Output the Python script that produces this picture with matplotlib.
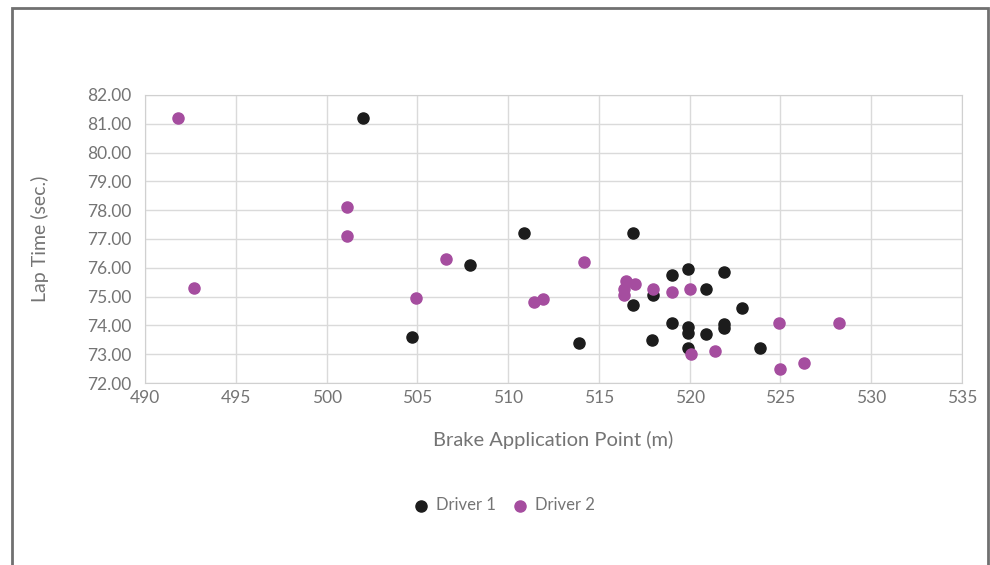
import matplotlib.pyplot as plt
from matplotlib.patches import Rectangle

# brake point (m) / lap time (s)
d1_brake = [502.0, 510.9, 516.9, 507.9, 504.7, 513.9, 516.9, 518.0, 519.0, 519.9,
            520.9, 521.9, 522.9, 519.0, 519.9, 519.9, 520.9, 521.9, 521.9, 517.9,
            519.9, 523.9]
d1_lap = [81.2, 77.2, 77.2, 76.1, 73.6, 73.4, 74.7, 75.05, 75.75, 75.95,
          75.25, 75.85, 74.6, 74.1, 73.95, 73.72, 73.7, 74.05, 73.9, 73.5,
          73.2, 73.2]

d2_brake = [491.8, 492.7, 501.1, 501.1, 506.6, 504.9, 511.4, 511.9, 514.2, 516.5,
            517.0, 516.4, 516.4, 518.0, 519.0, 520.0, 520.05, 521.4, 524.9, 525.0,
            526.3, 528.2]
d2_lap = [81.2, 75.3, 78.1, 77.1, 76.3, 74.95, 74.8, 74.9, 76.2, 75.55,
          75.45, 75.25, 75.05, 75.25, 75.15, 75.25, 73.0, 73.1, 74.1, 72.5,
          72.7, 74.1]

xticks = list(range(490, 536, 5))
yticks = list(range(72, 83))

plt.rcParams['font.family'] = ['Lato', 'DejaVu Sans']
grey = '#747474'

fig = plt.figure(figsize=(9.9, 5.65), dpi=100)
ax = fig.add_axes([0.1465, 0.3221, 0.8252, 0.5098])

ax.scatter(d1_brake, d1_lap, s=64, color='#1c1c1c', label='Driver 1', zorder=3)
ax.scatter(d2_brake, d2_lap, s=64, color='#a54d9f', label='Driver 2', zorder=3)

ax.set_xlim(490, 535)
ax.set_ylim(72, 82)
ax.set_xticks(xticks)
ax.set_yticks(yticks)
ax.set_yticklabels(['%.2f' % v for v in yticks])
ax.tick_params(length=0, labelsize=12.5, colors=grey)
ax.tick_params(axis='y', pad=10)
ax.tick_params(axis='x', pad=5)
ax.grid(color='#dadada', linewidth=1)
ax.set_axisbelow(True)
for s in ax.spines.values():
    s.set_color('#d0d0d0')

ax.set_xlabel('Brake Application Point (m)', fontsize=14.5, color=grey)
ax.set_ylabel('Lap Time (sec.)', fontsize=14, color=grey)
ax.xaxis.set_label_coords(0.5, -0.167)
ax.yaxis.set_label_coords(-0.118, 0.5)

fig.legend(loc='center', bbox_to_anchor=(0.505, 0.106), ncol=2, frameon=False,
           fontsize=12, labelcolor=grey, handletextpad=-0.1, columnspacing=0.45,
           markerscale=1.0)

# outer frame
fig.patches.append(Rectangle((12 / 990, -0.01), 976 / 990, 1 - 8 / 565 + 0.01,
                             transform=fig.transFigure, fill=False,
                             edgecolor='#707070', linewidth=2))

fig.savefig('out.png', dpi=100)
